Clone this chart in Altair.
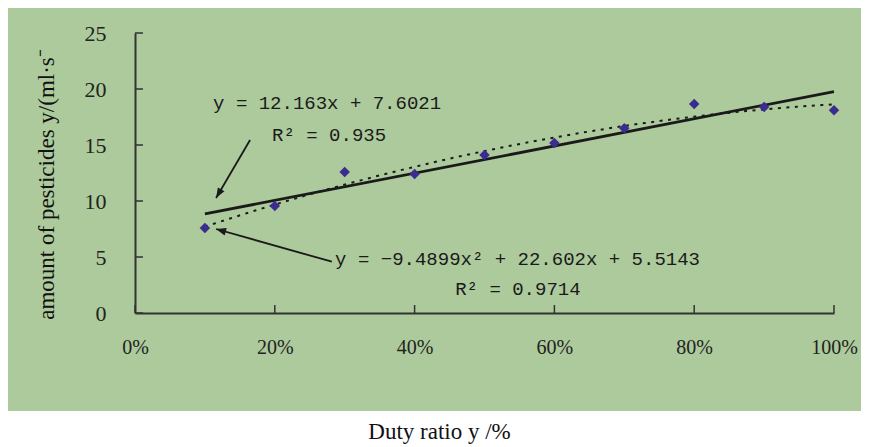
import altair as alt
import pandas as pd

# ---- data ----
duty = [10, 20, 30, 40, 50, 60, 70, 80, 90, 100]
amount = [7.59, 9.55, 12.59, 12.41, 14.10, 15.18, 16.50, 18.66, 18.40, 18.10]
x_ticks = [0, 20, 40, 60, 80, 100]
y_ticks = [0, 5, 10, 15, 20, 25]

ann_text = ["y = 12.163x + 7.6021", "R² = 0.935",
            "y = −9.4899x² + 22.602x + 5.5143", "R² = 0.9714"]
ann_x = [11.17, 19.61, 28.63, 45.81]
ann_y = [18.21, 15.36, 4.29, 1.61]

arrow_x = [16.46, 28.16]
arrow_y = [15.45, 4.58]
arrow_tip_x = [11.60, 11.60]
arrow_tip_y = [10.27, 7.50]
arrow_angle = [210.4, 286.1]

df = pd.DataFrame({"duty": duty, "amount": amount})
xt = pd.DataFrame({"duty": x_ticks})
yt = pd.DataFrame({"amount": y_ticks})
ann = pd.DataFrame({"duty": ann_x, "amount": ann_y, "text": ann_text})
arr = pd.DataFrame({"duty": arrow_x, "amount": arrow_y,
                    "tx": arrow_tip_x, "ty": arrow_tip_y, "angle": arrow_angle})

W, H = 699, 280
GREEN = "#adca9c"
INK = "#1a1a1a"

xscale = alt.Scale(domain=[0, 100], nice=False, zero=False)
yscale = alt.Scale(domain=[0, 25], nice=False)

xaxis = alt.Axis(values=x_ticks, labelExpr="datum.value + '%'", ticks=False, grid=False,
                 domainColor="#333333", domainWidth=2, labelFont="Liberation Serif",
                 labelFontSize=20, labelColor="#222222", labelPadding=24, labelFlush=False,
                 title="Duty ratio y /%", titleFont="Liberation Serif", titleFontSize=23,
                 titleFontWeight="normal", titleColor="#111111", titleX=304, titleY=125,
                 titleBaseline="alphabetic", titleAlign="center", zindex=1)
yaxis = alt.Axis(values=y_ticks, ticks=False, grid=False, domainColor="#333333", domainWidth=2,
                 labelFont="Liberation Serif", labelFontSize=22, labelColor="#222222",
                 labelPadding=29,
                 title="amount of pesticides y/(ml·s⁻", titleFont="Liberation Serif",
                 titleFontSize=23, titleFontWeight="normal", titleColor="#111111",
                 titleAngle=270, titleX=-82, titleY=151, titleAlign="center",
                 titleBaseline="alphabetic", zindex=1)


def X(field):
    return alt.X(field, type="quantitative", scale=xscale, axis=xaxis)


def Y(field):
    return alt.Y(field, type="quantitative", scale=yscale, axis=yaxis)


bg = alt.Chart(alt.Data(values=[{}])).mark_rect(color=GREEN, clip=False).encode(
    x=alt.value(-131), x2=alt.value(726), y=alt.value(-30), y2=alt.value(378))

xtick = alt.Chart(xt).mark_rule(color="#333333", strokeWidth=1.5).encode(
    x=X("duty"), y=alt.value(H), y2=alt.value(H - 8))
ytick = alt.Chart(yt).mark_rule(color="#333333", strokeWidth=1.5).encode(
    y=Y("amount"), x=alt.value(0), x2=alt.value(8))

poly = alt.Chart(df).transform_regression(
    "duty", "amount", method="poly", order=2, extent=[10, 100]
).mark_line(color=INK, strokeWidth=2, strokeDash=[3, 5.5]).encode(
    x=X("duty"), y=Y("amount"))

lin = alt.Chart(df).transform_regression(
    "duty", "amount", method="linear", extent=[10, 100]
).mark_line(color=INK, strokeWidth=2.8).encode(
    x=X("duty"), y=Y("amount"))

pts = alt.Chart(df).mark_point(shape="diamond", filled=True, size=110, color="#3b2c8f",
                               opacity=1).encode(
    x=X("duty"), y=Y("amount"))

arrows = alt.Chart(arr).mark_rule(color=INK, strokeWidth=1.8).encode(
    x=X("duty"), y=Y("amount"), x2="tx:Q", y2="ty:Q")

heads = alt.Chart(arr).mark_point(shape="M0,0L-0.38,1L0.38,1Z", filled=True, size=400,
                                  color=INK, opacity=1).encode(
    x=X("tx"), y=Y("ty"), angle=alt.Angle("angle:Q", scale=None))

texts = alt.Chart(ann).mark_text(font="Liberation Mono", fontSize=19, color="#1a1a1a",
                                 align="left", baseline="alphabetic").encode(
    x=X("duty"), y=Y("amount"), text="text:N")

chart = alt.layer(bg, xtick, ytick, poly, lin, pts, arrows, heads, texts).properties(
    width=W, height=H,
    autosize=alt.AutoSizeParams(type="none"),
    padding={"left": 127, "top": 25, "right": 27, "bottom": 134},
    background="white",
).configure_view(stroke=None)

chart.save("out.html", embed_options={"renderer": "svg", "actions": False})
